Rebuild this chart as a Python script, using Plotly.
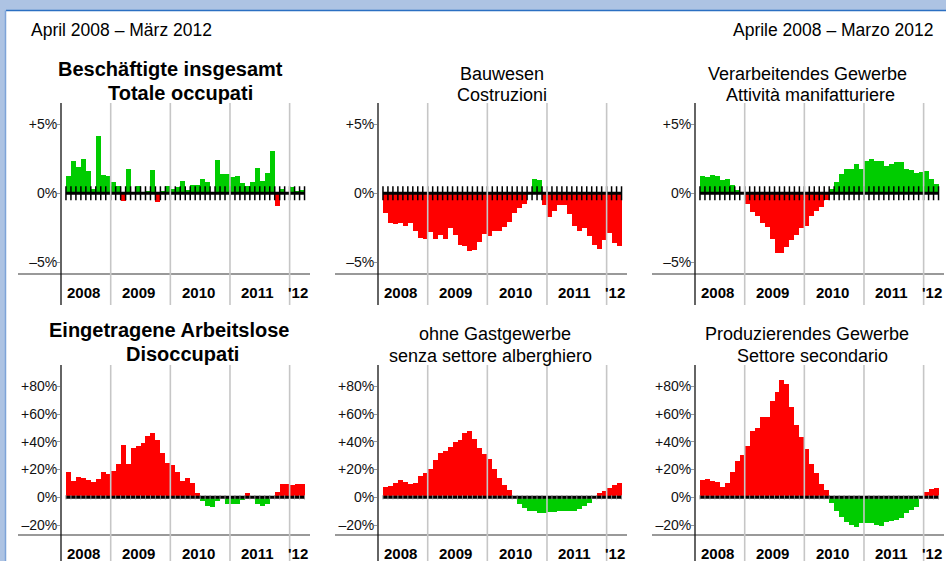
import plotly.graph_objects as go
import pandas as pd

# ---------------- data ----------------
months = pd.date_range("2008-04-01", periods=48, freq="MS")
year_labels = ["2008", "2009", "2010", "2011", "'12"]

beschaeftigte = [1.28, 2.37, 1.93, 2.51, 1.64, 0.29, 4.18, 1.35, 1.28,
                 0.85, 0.56, -0.58, 1.79, 0.12, 0.56, 0.12, 0.2, 1.71, -0.65, 0.15, 0.56,
                 0.29, 0.43, 0.92, 0.22, 0.63, 0.63, 1.06, 0.85, 0.12, 2.44, 1.43, 1.43,
                 1.21, 1.28, 0.77, 0.56, 0.85, 1.86, 0.92, 1.5, 3.09, -0.94, 0.34, 0.05,
                 0.48, 0.2, 0.27]
bauwesen = [-1.43, -2.15, -2.23, -2.15, -2.37, -2.15, -2.73, -3.24, -3.31,
            -2.81, -3.31, -3.02, -3.31, -2.52, -3.02, -3.75, -3.82, -4.18, -4.11, -3.53, -2.95,
            -3.1, -2.73, -2.73, -2.44, -2.08, -1.43, -1.07, -0.78, -0.04, 1.0, 0.93, -0.85,
            -1.72, -1.28, -0.85, -0.85, -1.5, -2.37, -2.73, -2.52, -3.1, -3.75, -4.04, -3.38,
            -2.88, -3.6, -3.82]
manifattura = [1.26, 1.18, 1.33, 1.26, 0.97, 1.04, 0.6, 0.24, 0.05,
               -0.75, -1.33, -1.62, -2.13, -2.42, -3.29, -4.3, -4.3, -3.86, -3.36, -3.0, -2.49,
               -2.34, -1.62, -1.26, -0.97, -0.46, 0.31, 0.82, 1.4, 1.76, 1.76, 2.13, 1.76,
               2.34, 2.49, 2.34, 2.34, 1.98, 2.13, 2.27, 2.27, 1.76, 1.69, 1.47, 1.55,
               1.62, 1.04, 0.68]
arbeitslose = [18.3, 11.8, 14.7, 13.9, 12.5, 11.1, 13.2, 18.3, 16.8,
               19.0, 24.0, 37.7, 24.0, 35.6, 37.0, 39.2, 44.2, 46.4, 41.3, 32.0, 24.7,
               23.3, 18.3, 11.8, 13.9, 10.3, 3.1, -2.5, -6.2, -6.8, -2.5, -0.4, -4.7,
               -4.7, -4.7, -1.8, 3.3, 1.0, -4.7, -6.1, -4.7, 0.3, 4.0, 9.8, 9.8,
               9.1, 9.8, 9.8]
ohne_gastgewerbe = [7.4, 8.2, 10.3, 12.5, 11.1, 9.6, 10.3, 15.4, 17.5,
                    20.4, 26.9, 32.0, 33.4, 36.3, 39.9, 41.3, 46.4, 47.8, 42.0, 35.6, 31.2,
                    27.6, 20.4, 13.9, 8.9, 5.3, 0.2, -4.6, -7.4, -9.6, -9.6, -11.1, -11.1,
                    -10.3, -10.3, -9.6, -9.6, -9.6, -9.6, -8.2, -6.0, -3.8, 0.2, 3.4, 4.8,
                    6.7, 8.9, 10.3]
produzierend = [12.5, 13.2, 11.8, 11.1, 7.4, 10.3, 18.3, 26.2, 30.5,
                37.0, 47.8, 50.0, 57.9, 57.9, 69.4, 75.9, 84.6, 81.7, 65.1, 52.1, 43.5,
                34.8, 24.0, 17.5, 9.6, 5.3, -4.1, -9.9, -14.2, -17.8, -19.9, -21.4, -18.5,
                -18.5, -18.5, -19.9, -20.7, -17.8, -17.1, -16.3, -14.9, -11.3, -9.1, -7.0, -0.3,
                3.8, 6.0, 6.7]

top_tickvals = [-5, 0, 5]
top_ticktext = ["–5%", "0%", "+5%"]
bottom_tickvals = [-20, 0, 20, 40, 60, 80]
bottom_ticktext = ["–20%", "0%", "+20%", "+40%", "+60%", "+80%"]

header_left = "April 2008 – März 2012"
header_right = "Aprile 2008 – Marzo 2012"

panels = [
    dict(values=beschaeftigte, row=0, col=0, good_up=True,
         title=["Beschäftigte insgesamt", "Totale occupati"], bold=True, tx=[170, 180]),
    dict(values=bauwesen, row=0, col=1, good_up=True,
         title=["Bauwesen", "Costruzioni"], bold=False, tx=[502, 502]),
    dict(values=manifattura, row=0, col=2, good_up=True,
         title=["Verarbeitendes Gewerbe", "Attività manifatturiere"], bold=False, tx=[807.5, 810.5]),
    dict(values=arbeitslose, row=1, col=0, good_up=False,
         title=["Eingetragene Arbeitslose", "Disoccupati"], bold=True, tx=[169, 182]),
    dict(values=ohne_gastgewerbe, row=1, col=1, good_up=False,
         title=["ohne Gastgewerbe", "senza settore alberghiero"], bold=False, tx=[495, 490]),
    dict(values=produzierend, row=1, col=2, good_up=False,
         title=["Produzierendes Gewerbe", "Settore secondario"], bold=False, tx=[807, 812]),
]

# ---------------- layout geometry (pixels) ----------------
W, H = 946, 561
col_left = [61, 378, 695]
col_w = 249
row_top = [103, 365]
row_bot = [274, 535]
row_ext = [31, 27]              # how far year lines reach below the plot
y_ranges = [[-5.85, 6.54], [-27.2, 95.35]]
x_range = [-1.5, 48.6]
GREEN = "#00cc00"
RED = "#ff0000"
FONT = "Liberation Sans, Arial, Helvetica, sans-serif"

# title baselines per row: (bold line1, bold line2, regular line1, regular line2)
title_base = [(76, 100, 80, 101.7), (337, 361, 340, 362.3)]


def px(x):
    return x / W


def py(y):
    return 1 - y / H


fig = go.Figure()
shapes = []
annotations = []

n = len(months)
idx = list(range(n))
boundaries = [i - 0.5 for i in range(n + 1)]
year_starts = [i - 0.5 for i, m in enumerate(months) if m.month == 1]
seg_edges = [x_range[0]] + year_starts + [x_range[1]]

for k, p in enumerate(panels):
    ax = "" if k == 0 else str(k + 1)
    xa, ya = "x" + ax, "y" + ax
    r, c = p["row"], p["col"]
    vals = p["values"]
    if p["good_up"]:
        colors = [GREEN if v >= 0 else RED for v in vals]
    else:
        colors = [RED if v >= 0 else GREEN for v in vals]

    fig.add_trace(go.Bar(x=idx, y=vals, width=1.0, marker=dict(color=colors, line=dict(width=0)),
                         xaxis=xa, yaxis=ya, showlegend=False, hoverinfo="skip"))
    fig.add_trace(go.Scatter(x=[-0.5, n - 0.5], y=[0, 0], mode="lines",
                             line=dict(color="black", width=3),
                             xaxis=xa, yaxis=ya, showlegend=False, hoverinfo="skip"))
    # month ticks on the zero line
    if r == 0:
        tick_marker = dict(symbol="line-ns", size=10, line=dict(width=1.5, color="black"))
    else:
        tick_marker = dict(symbol="line-ns", size=3, line=dict(width=1, color="#888"))
    fig.add_trace(go.Scatter(x=boundaries, y=[0] * len(boundaries), mode="markers",
                             marker=tick_marker,
                             xaxis=xa, yaxis=ya, showlegend=False, hoverinfo="skip"))

    x0 = col_left[c]
    dom_x = [px(x0), px(x0 + col_w)]
    dom_y = [py(row_bot[r]), py(row_top[r])]
    tv = top_tickvals if r == 0 else bottom_tickvals
    tt = top_ticktext if r == 0 else bottom_ticktext
    fig.update_layout(**{
        ("xaxis" + ax): dict(domain=dom_x, range=x_range, anchor=ya, showgrid=False,
                             zeroline=False, showline=False, showticklabels=False, ticks="",
                             fixedrange=True),
        ("yaxis" + ax): dict(domain=dom_y, range=y_ranges[r], anchor=xa, showgrid=False,
                             zeroline=False, showline=False, tickvals=tv, ticktext=tt,
                             ticks="outside", ticklen=3, tickcolor="#999", tickwidth=1,
                             ticklabelstandoff=-3,
                             tickfont=dict(family=FONT, size=14, color="#111"),
                             fixedrange=True),
    })

    ph = row_bot[r] - row_top[r]
    ext = row_ext[r] / ph
    # x axis gray line (extends left beneath the tick labels)
    shapes.append(dict(type="line", xref=xa + " domain", yref=ya + " domain",
                       x0=-43 / col_w, x1=1, y0=0, y1=0,
                       line=dict(color="#777", width=1.3), layer="above"))
    # y axis black line
    shapes.append(dict(type="line", xref=xa + " domain", yref=ya + " domain",
                       x0=0, x1=0, y0=-ext, y1=1,
                       line=dict(color="#111", width=1.3), layer="above"))
    # year separator lines
    for b in year_starts:
        shapes.append(dict(type="line", xref=xa, yref=ya + " domain",
                           x0=b, x1=b, y0=-ext, y1=1,
                           line=dict(color="#c6c6c6", width=1.6), layer="above"))
    # year labels
    for j, lab in enumerate(year_labels):
        cx = (seg_edges[j] + seg_edges[j + 1]) / 2
        annotations.append(dict(x=cx, y=-18 / ph, xref=xa, yref=ya + " domain",
                                text="<b>%s</b>" % lab, showarrow=False,
                                xanchor="center", yanchor="middle", xshift=-2,
                                font=dict(family=FONT, size=15, color="black")))
    # titles
    tb = title_base[r]
    for li, line in enumerate(p["title"]):
        if p["bold"]:
            fs = 20
            base = tb[li]
            txt = "<b>%s</b>" % line
        else:
            fs = 18
            base = tb[2 + li]
            txt = line
        annotations.append(dict(x=px(p["tx"][li]), y=py(base - 0.35 * fs), xref="paper", yref="paper",
                                text=txt, showarrow=False, xanchor="center", yanchor="middle",
                                font=dict(family=FONT, size=fs, color="black")))

# headers
annotations.append(dict(x=px(29), y=py(30), xref="paper", yref="paper", text=header_left,
                        showarrow=False, xanchor="left", yanchor="middle",
                        font=dict(family=FONT, size=17.5, color="black")))
annotations.append(dict(x=px(934.5), y=py(30), xref="paper", yref="paper", text=header_right,
                        showarrow=False, xanchor="right", yanchor="middle",
                        font=dict(family=FONT, size=17.5, color="black")))

# window frame
shapes.insert(0, dict(type="rect", xref="paper", yref="paper", x0=px(6), x1=1, y0=0, y1=py(11),
                      fillcolor="white", line=dict(width=0), layer="below"))
shapes.append(dict(type="line", xref="paper", yref="paper", x0=px(6), x1=1, y0=py(10.5), y1=py(10.5),
                   line=dict(color="#2b6fc2", width=1.5), layer="above"))
shapes.append(dict(type="line", xref="paper", yref="paper", x0=px(5.5), x1=px(5.5), y0=0, y1=py(10.5),
                   line=dict(color="#7ea3d8", width=1.5), layer="above"))

fig.update_layout(width=W, height=H, margin=dict(l=0, r=0, t=0, b=0),
                  paper_bgcolor="#adc3e3", plot_bgcolor="rgba(0,0,0,0)",
                  bargap=0, barmode="overlay", shapes=shapes, annotations=annotations,
                  font=dict(family=FONT), showlegend=False)

fig.write_html("out.html", config={"displayModeBar": False, "staticPlot": True},
               post_script="document.body.style.margin='0';document.body.style.padding='0';"
                           "document.body.style.overflow='hidden';")
